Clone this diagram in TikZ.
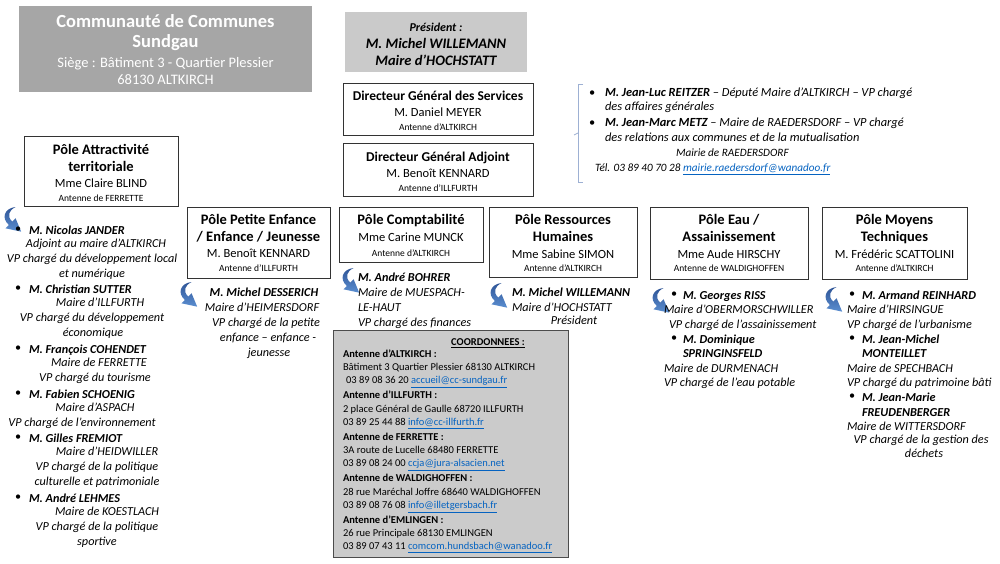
\documentclass[tikz,border=0pt]{standalone}
\usepackage{fontspec}
\setmainfont{Carlito}
\definecolor{boxgray}{HTML}{A6A6A6}
\definecolor{presgray}{HTML}{CACACA}
\definecolor{coordgray}{HTML}{CBCBCB}
\definecolor{lnk}{HTML}{0563C1}
\definecolor{arrdark}{HTML}{2F5597}
\definecolor{arrlight}{HTML}{5B8ED0}
\definecolor{brk}{HTML}{9DB0D3}
\newcommand{\myfs}[1]{\fontsize{#1}{#1}\selectfont}
\newcommand{\lk}[1]{\textcolor{lnk}{\underline{#1}}}
\begin{document}
\begin{tikzpicture}[x=1pt,y=-1pt,
  every node/.style={inner sep=0pt, outer sep=0pt},
  tx/.style={anchor=mid, yshift=-2pt},
  tl/.style={tx, font=\myfs{14.5}\bfseries},
  nm/.style={tx, font=\myfs{12.5}},
  an/.style={tx, font=\myfs{9.5}},
  li/.style={tx, font=\myfs{12.2}\itshape},
  lb/.style={tx, font=\myfs{12.2}\bfseries\itshape},
  lw/.style={anchor=mid west, yshift=-2pt},
  co/.style={lw, font=\myfs{10.5}},
  cob/.style={lw, font=\myfs{10.5}\bfseries},
  pbox/.style={draw=black!80, line width=0.9pt, fill=white},
  carrow/.pic={
    \shade[top color=arrdark, bottom color=arrlight]
      (13,0) .. controls (3,1) and (0,10) .. (7,16) -- (4,19) -- (18,22)
      -- (13,10) -- (10,13) .. controls (5,8) and (7,3) .. (13,0) -- cycle;
  }
]
\useasboundingbox (0,0) rectangle (1000,563);
\fill[white] (0,0) rectangle (1000,563);

% ---- top-left title
\node[fill=boxgray, minimum width=293, minimum height=86] (cc) at (165.5,49) {};
\node[tx, text=white, font=\myfs{18.5}\bfseries] (cc1) at (165.5,23) {Communauté de Communes};
\node[tx, text=white, font=\myfs{18.5}\bfseries] (cc2) at (165.5,43) {Sundgau};
\node[tx, text=white, font=\myfs{14.5}] (cc3) at (165.5,63) {Siège : Bâtiment 3 - Quartier Plessier};
\node[tx, text=white, font=\myfs{14.5}] (cc4) at (165.5,80) {68130 ALTKIRCH};

% ---- president
\node[fill=presgray, minimum width=182, minimum height=60] (pres) at (436,42) {};
\node[tx, font=\myfs{12}\bfseries\itshape] (pr1) at (436,27) {Président :};
\node[tx, font=\myfs{14.5}\bfseries\itshape] (pr2) at (436,44) {M. Michel WILLEMANN};
\node[tx, font=\myfs{14.5}\bfseries\itshape] (pr3) at (436,61) {Maire d’HOCHSTATT};

% ---- DGS / DGA
\node[pbox, minimum width=190, minimum height=52] (dgs) at (438,109) {};
\node[tx, font=\myfs{13.5}\bfseries] (dgs1) at (438,96) {Directeur Général des Services};
\node[nm] (dgs2) at (438,112) {M. Daniel MEYER};
\node[an] (dgs3) at (438,126) {Antenne d’ALTKIRCH};
\node[pbox, minimum width=190, minimum height=53] (dga) at (438,169.5) {};
\node[tx, font=\myfs{13.5}\bfseries] (dga1) at (438,157) {Directeur Général Adjoint};
\node[nm] (dga2) at (438,173) {M. Benoît KENNARD};
\node[an] (dga3) at (438,187) {Antenne d’ILLFURTH};

% ---- bracket and VP text
\coordinate (bt) at (583,84); \coordinate (btl) at (578,84);
\coordinate (bb) at (583,182); \coordinate (bbl) at (578,182);
\coordinate (bm) at (578,133); \coordinate (bmt) at (574,135);
\draw[brk, line width=0.7pt] (bt) -- (btl) -- (bbl) -- (bb);
\draw[brk, line width=0.7pt] (bm) -- (bmt);
\node[lw, font=\myfs{12.4}] (rb1) at (589,92) {•};
\node[lw, font=\myfs{12.4}\itshape] (r1) at (605,92) {\textbf{M. Jean-Luc REITZER} – Député Maire d’ALTKIRCH – VP chargé};
\node[lw, font=\myfs{12.4}\itshape] (r2) at (605,106.5) {des affaires générales};
\node[lw, font=\myfs{12.4}] (rb2) at (589,122) {•};
\node[lw, font=\myfs{12.4}\itshape] (r3) at (605,122) {\textbf{M. Jean-Marc METZ} – Maire de RAEDERSDORF – VP chargé};
\node[lw, font=\myfs{12.4}\itshape] (r4) at (605,137) {des relations aux communes et de la mutualisation};
\node[lw, font=\myfs{11.2}\itshape] (r5) at (676,152) {Mairie de RAEDERSDORF};
\node[lw, font=\myfs{11.2}\itshape] (r6) at (595,167) {Tél. 03 89 40 70 28 \lk{mairie.raedersdorf@wanadoo.fr}};

% ---- Pole Attractivite
\node[pbox, minimum width=154, minimum height=70] (att) at (101,171) {};
\node[tl] (att1) at (101,150) {Pôle Attractivité};
\node[tl] (att2) at (101,167) {territoriale};
\node[nm] (att3) at (101,183) {Mme Claire BLIND};
\node[an] (att4) at (101,197) {Antenne de FERRETTE};
\pic[scale=1.12] (arA) at (1,207) {carrow};
\node[lw, font=\myfs{12.2}] (lb1) at (15,228) {•};
\node[lb, lw] (l0) at (29,228) {M. Nicolas JANDER};
\node[li] (l1) at (96,242.9) {Adjoint au maire d’ALTKIRCH};
\node[li] (l2) at (92,257.8) {VP chargé du développement local};
\node[li] (l3) at (92,272.7) {et numérique};
\node[lw, font=\myfs{12.2}] (lb2) at (15,287.6) {•};
\node[lb, lw] (l4) at (29,287.6) {M. Christian SUTTER};
\node[li] (l5) at (100,302.5) {Maire d’ILLFURTH};
\node[li] (l6) at (92,317.4) {VP chargé du développement};
\node[li] (l7) at (93,332.3) {économique};
\node[lw, font=\myfs{12.2}] (lb3) at (15,347.2) {•};
\node[lb, lw] (l8) at (29,347.2) {M. François COHENDET};
\node[li] (l9) at (99,362.1) {Maire de FERRETTE};
\node[li] (l10) at (95,377) {VP chargé du tourisme};
\node[lw, font=\myfs{12.2}] (lb4) at (15,391.9) {•};
\node[lb, lw] (l11) at (29,391.9) {M. Fabien SCHOENIG};
\node[li] (l12) at (95,406.8) {Maire d’ASPACH};
\node[li] (l13) at (82,421.7) {VP chargé de l’environnement};
\node[lw, font=\myfs{12.2}] (lb5) at (15,436.6) {•};
\node[lb, lw] (l14) at (29,436.6) {M. Gilles FREMIOT};
\node[li] (l15) at (107,451.5) {Maire d’HEIDWILLER};
\node[li] (l16) at (97,466.4) {VP chargé de la politique};
\node[li] (l17) at (97,481.3) {culturelle et patrimoniale};
\node[lw, font=\myfs{12.2}] (lb6) at (15,496.2) {•};
\node[lb, lw] (l18) at (29,496.2) {M. André LEHMES};
\node[li] (l19) at (107,511.1) {Maire de KOESTLACH};
\node[li] (l20) at (97,526) {VP chargé de la politique};
\node[li] (l21) at (97,540.9) {sportive};

% ---- Pole Petite Enfance
\node[pbox, minimum width=143, minimum height=71] (pe) at (258.5,242.5) {};
\node[tl] (pe1) at (258.5,220) {Pôle Petite Enfance};
\node[tl] (pe2) at (258.5,237) {/ Enfance / Jeunesse};
\node[nm] (pe3) at (258.5,253) {M. Benoît KENNARD};
\node[an] (pe4) at (258.5,267) {Antenne d’ILLFURTH};
\pic[scale=1.12] (arB) at (177,282) {carrow};
\node[lb] (p0) at (264,292) {M. Michel DESSERICH};
\node[li] (p1) at (262,307) {Maire d’HEIMERSDORF};
\node[li] (p2) at (266,322) {VP chargé de la petite};
\node[li] (p3) at (268,337) {enfance – enfance -};
\node[li] (p4) at (269,352) {jeunesse};

% ---- Pole Comptabilite
\node[pbox, minimum width=144, minimum height=55] (cpt) at (411,234.5) {};
\node[tl] (cpt1) at (411,220) {Pôle Comptabilité};
\node[nm] (cpt2) at (411,237) {Mme Carine MUNCK};
\node[an] (cpt3) at (411,252) {Antenne d’ALTKIRCH};
\pic[scale=1.12] (arC) at (339,268) {carrow};
\node[lb, lw] (c0) at (358,275) {M. André BOHRER};
\node[li, lw] (c1) at (358,290) {Maire de MUESPACH-};
\node[li, lw] (c2) at (358,305) {LE-HAUT};
\node[li, lw] (c3) at (358,320) {VP chargé des finances};

% ---- Coordonnees
\node[draw=black!70, line width=1pt, fill=coordgray, minimum width=235, minimum height=227] (co) at (450.5,443.5) {};
\node[tx, font=\myfs{10.5}\bfseries] (co0) at (488,341) {\underline{COORDONNEES :}};
\node[cob] (ca1) at (343,353) {Antenne d’ALTKIRCH :};
\node[co] (ca2) at (343,366.3) {Bâtiment 3 Quartier Plessier 68130 ALTKIRCH};
\node[co] (ca3) at (346,379.6) {03 89 08 36 20 \lk{accueil@cc-sundgau.fr}};
\node[cob] (cb1) at (343,394.5) {Antenne d’ILLFURTH :};
\node[co] (cb2) at (343,407.8) {2 place Général de Gaulle 68720 ILLFURTH};
\node[co] (cb3) at (343,421.1) {03 89 25 44 88 \lk{info@cc-illfurth.fr}};
\node[cob] (cc1b) at (343,436) {Antenne de FERRETTE :};
\node[co] (cc2b) at (343,449.3) {3A route de Lucelle 68480 FERRETTE};
\node[co] (cc3b) at (343,462.6) {03 89 08 24 00 \lk{ccja@jura-alsacien.net}};
\node[cob] (cd1) at (343,477.5) {Antenne de WALDIGHOFFEN :};
\node[co] (cd2) at (343,490.8) {28 rue Maréchal Joffre 68640 WALDIGHOFFEN};
\node[co] (cd3) at (343,504.1) {03 89 08 76 08 \lk{info@illetgersbach.fr}};
\node[cob] (ce1) at (343,519) {Antenne d’EMLINGEN :};
\node[co] (ce2) at (343,532.3) {26 rue Principale 68130 EMLINGEN};
\node[co] (ce3) at (343,545.6) {03 89 07 43 11 \lk{comcom.hundsbach@wanadoo.fr}};

% ---- Pole RH
\node[pbox, minimum width=148, minimum height=70] (rh) at (563,242) {};
\node[tl] (rh1) at (563,220) {Pôle Ressources};
\node[tl] (rh2) at (563,237) {Humaines};
\node[nm] (rh3) at (563,254) {Mme Sabine SIMON};
\node[an] (rh4) at (563,267) {Antenne d’ALTKIRCH};
\pic[scale=1.12] (arD) at (487,283) {carrow};
\node[lb, lw] (h0) at (512,290) {M. Michel WILLEMANN};
\node[li, lw] (h1) at (512,305) {Maire d’HOCHSTATT};
\node[li] (h2) at (574,320) {Président};

% ---- Pole Eau
\node[pbox, minimum width=158, minimum height=72] (eau) at (729,243) {};
\node[tl] (eau1) at (729,220) {Pôle Eau /};
\node[tl] (eau2) at (729,237) {Assainissement};
\node[nm] (eau3) at (729,254) {Mme Aude HIRSCHY};
\node[an] (eau4) at (729,267) {Antenne de WALDIGHOFFEN};
\pic[scale=1.12] (arE) at (649,288) {carrow};
\node[lw, font=\myfs{12.2}] (eb1) at (671,293) {•};
\node[lb, lw] (e0) at (683,293) {M. Georges RISS};
\node[li, lw] (e1) at (664,307.6) {Maire d’OBERMORSCHWILLER};
\node[li, lw] (e2) at (669,322.2) {VP chargé de l’assainissement};
\node[lw, font=\myfs{12.2}] (eb2) at (671,336.8) {•};
\node[lb, lw] (e3) at (683,336.8) {M. Dominique};
\node[lb, lw] (e4) at (683,351.4) {SPRINGINSFELD};
\node[li, lw] (e5) at (664,366) {Maire de DURMENACH};
\node[li, lw] (e6) at (664,380.6) {VP chargé de l’eau potable};

% ---- Pole Moyens Techniques
\node[pbox, minimum width=145, minimum height=72] (moy) at (894.5,243) {};
\node[tl] (moy1) at (894.5,220) {Pôle Moyens};
\node[tl] (moy2) at (894.5,237) {Techniques};
\node[nm] (moy3) at (894.5,254) {M. Frédéric SCATTOLINI};
\node[an] (moy4) at (894.5,267) {Antenne d’ALTKIRCH};
\pic[scale=1.12] (arF) at (822,287) {carrow};
\node[lw, font=\myfs{12.2}] (mb1) at (849,293) {•};
\node[lb, lw] (m0) at (862,293) {M. Armand REINHARD};
\node[li, lw] (m1) at (847,307.6) {Maire d’HIRSINGUE};
\node[li, lw] (m2) at (847,322.2) {VP chargé de l’urbanisme};
\node[lw, font=\myfs{12.2}] (mb2) at (849,336.8) {•};
\node[lb, lw] (m3) at (862,336.8) {M. Jean-Michel};
\node[lb, lw] (m4) at (862,351.4) {MONTEILLET};
\node[li, lw] (m5) at (847,366) {Maire de SPECHBACH};
\node[li, lw] (m6) at (847,380.6) {VP chargé du patrimoine bâti};
\node[lw, font=\myfs{12.2}] (mb3) at (849,395.2) {•};
\node[lb, lw] (m7) at (862,395.2) {M. Jean-Marie};
\node[lb, lw] (m8) at (862,409.8) {FREUDENBERGER};
\node[li, lw] (m9) at (847,424.4) {Maire de WITTERSDORF};
\node[li] (m10) at (921,439) {VP chargé de la gestion des};
\node[li] (m11) at (924,453.6) {déchets};
\end{tikzpicture}
\end{document}
